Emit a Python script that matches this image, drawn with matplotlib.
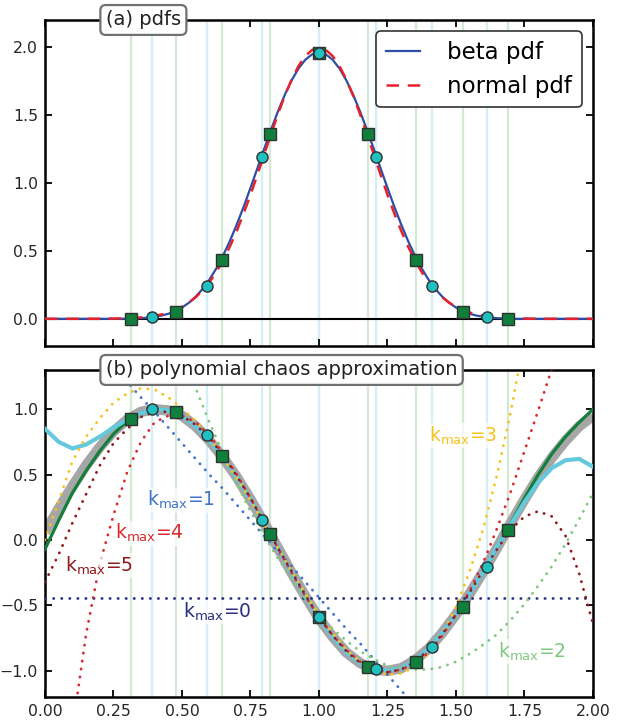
import numpy as np
import matplotlib.pyplot as plt

# ---- data ----
# quadrature nodes: squares (9 pts) and circles (7 pts)
sq_x = [0.313, 0.478, 0.645, 0.821, 1.000, 1.180, 1.354, 1.526, 1.690]
sq_pdf = [0.0, 0.05, 0.43, 1.36, 1.96, 1.36, 0.43, 0.05, 0.0]
sq_f = [0.924, 0.975, 0.646, 0.046, -0.59, -0.967, -0.929, -0.514, 0.08]
ci_x = [0.390, 0.590, 0.793, 1.000, 1.208, 1.412, 1.613]
ci_pdf = [0.015, 0.24, 1.193, 1.96, 1.19, 0.24, 0.015]
ci_f = [0.998, 0.80, 0.153, -0.59, -0.987, -0.819, -0.204]

# (a) pdfs, sampled every 0.025 on [0, 2]
pdf_x = np.linspace(0, 2, 81)
beta_pdf = [0, 0, 0, 0, 0, 0, 0, 0, 0, 0, 0, 0,
            0.001, 0.003, 0.005, 0.008, 0.015, 0.024, 0.037, 0.057, 0.083, 0.118,
            0.163, 0.219, 0.288, 0.370, 0.466, 0.574, 0.695, 0.825, 0.964, 1.107,
            1.251, 1.392, 1.526, 1.648, 1.755, 1.842, 1.907, 1.947,
            1.960,
            1.947, 1.907, 1.842, 1.755, 1.648, 1.526, 1.392, 1.251,
            1.107, 0.964, 0.825, 0.695, 0.574, 0.466, 0.370, 0.288, 0.219, 0.163,
            0.118, 0.083, 0.057, 0.037, 0.024, 0.015, 0.008, 0.005, 0.003, 0.001,
            0, 0, 0, 0, 0, 0, 0, 0, 0, 0, 0, 0]
normal_pdf = [0, 0, 0, 0, 0, 0, 0, 0,
              0.000, 0.001, 0.002, 0.003, 0.004, 0.007, 0.010, 0.015, 0.022, 0.032,
              0.046, 0.064, 0.088, 0.119, 0.159, 0.209, 0.270, 0.344, 0.432, 0.533,
              0.648, 0.775, 0.913, 1.060, 1.210, 1.360, 1.506, 1.641, 1.760, 1.860,
              1.934, 1.980,
              1.995,
              1.980, 1.934, 1.860, 1.760, 1.641, 1.506, 1.360, 1.210, 1.060, 0.913,
              0.775, 0.648, 0.533, 0.432, 0.344, 0.270, 0.209, 0.159, 0.119, 0.088,
              0.064, 0.046, 0.032, 0.022, 0.015, 0.010, 0.007, 0.004, 0.003, 0.002,
              0.001, 0.000,
              0, 0, 0, 0, 0, 0, 0, 0]

# (b) function and approximations, sampled every 0.05 on [0, 2]
xg = np.linspace(0, 2, 41)
f_true = [0.06, 0.24, 0.41, 0.57, 0.71, 0.83, 0.92, 0.98, 1.00, 0.99, 0.95, 0.87,
          0.76, 0.63, 0.48, 0.31, 0.13, -0.06, -0.25, -0.43, -0.60, -0.74, -0.86,
          -0.94, -0.99, -1.00, -0.98, -0.92, -0.83, -0.71, -0.57, -0.41, -0.24,
          -0.06, 0.13, 0.31, 0.48, 0.63, 0.76, 0.87, 0.95]
f_sq = [-0.07, 0.15, 0.36, 0.53, 0.68, 0.81, 0.91, 0.97, 1.00, 0.99, 0.95, 0.87,
        0.76, 0.63, 0.48, 0.31, 0.13, -0.06, -0.25, -0.43, -0.60, -0.74, -0.86,
        -0.94, -0.99, -1.00, -0.98, -0.92, -0.83, -0.71, -0.57, -0.41, -0.24,
        -0.06, 0.13, 0.32, 0.50, 0.66, 0.79, 0.90, 1.00]
f_ci = [0.85, 0.75, 0.70, 0.73, 0.79, 0.86, 0.92, 0.97, 1.00, 0.99, 0.95, 0.87,
        0.76, 0.63, 0.48, 0.31, 0.13, -0.06, -0.25, -0.43, -0.60, -0.74, -0.86,
        -0.94, -0.99, -1.00, -0.98, -0.92, -0.83, -0.71, -0.57, -0.41, -0.24,
        -0.05, 0.12, 0.29, 0.44, 0.55, 0.61, 0.62, 0.56]
k0_level = -0.44
k1 = [1.92, 1.80, 1.68, 1.57, 1.45, 1.33, 1.21, 1.09, 0.98, 0.86, 0.74, 0.62,
      0.50, 0.39, 0.27, 0.15, 0.03, -0.09, -0.20, -0.32, -0.44, -0.56, -0.68,
      -0.79, -0.91, -1.03, -1.15, -1.27, -1.38, -1.50, -1.62, -1.74, -1.86,
      -1.97, -2.09, -2.21, -2.33, -2.45, -2.56, -2.68, -2.80]
k2 = [5.08, 4.64, 4.22, 3.81, 3.42, 3.05, 2.69, 2.35, 2.03, 1.72, 1.43, 1.16,
      0.90, 0.66, 0.43, 0.22, 0.03, -0.14, -0.30, -0.45, -0.57, -0.68, -0.77,
      -0.85, -0.91, -0.96, -0.98, -0.99, -0.99, -0.97, -0.93, -0.87, -0.80,
      -0.72, -0.61, -0.49, -0.35, -0.20, -0.03, 0.16, 0.36]
k3 = [0.00, 0.30, 0.60, 0.79, 0.93, 1.05, 1.12, 1.16, 1.15, 1.09, 1.01, 0.91,
      0.78, 0.63, 0.47, 0.30, 0.12, -0.06, -0.24, -0.41, -0.57, -0.71, -0.84,
      -0.93, -1.00, -1.03, -1.02, -0.97, -0.87, -0.72, -0.51, -0.24, 0.09,
      0.50, 0.98, 1.54, 2.18, 2.92, 3.74, 4.67, 5.69]
k4 = [-3.52, -2.40, -1.45, -0.72, -0.18, 0.19, 0.52, 0.75, 0.90, 0.95, 0.95, 0.90,
      0.80, 0.66, 0.50, 0.32, 0.13, -0.06, -0.25, -0.43, -0.59, -0.73, -0.84,
      -0.93, -0.99, -1.01, -0.99, -0.94, -0.86, -0.73, -0.57, -0.39, -0.17,
      0.09, 0.37, 0.68, 0.99, 1.31, 1.66, 2.02, 2.38]
k5 = [-0.32, -0.11, 0.13, 0.35, 0.57, 0.74, 0.85, 0.94, 0.98, 0.98, 0.95, 0.88,
      0.78, 0.65, 0.49, 0.32, 0.13, -0.06, -0.24, -0.42, -0.59, -0.73, -0.85,
      -0.94, -0.99, -1.01, -0.99, -0.93, -0.84, -0.72, -0.57, -0.40, -0.23,
      -0.07, 0.08, 0.18, 0.22, 0.18, 0.03, -0.26, -0.64]

k_colors = ['#2b2f80', '#3f74c9', '#80c880', '#f8c21c', '#d7282f', '#8e1b1e']
# label anchor (data coords) for each kmax curve
k_label_pos = [(0.63, -0.55), (0.496, 0.305), (1.777, -0.855),
               (1.526, 0.80), (0.38, 0.053), (0.197, -0.198)]

xticks = [0.0, 0.25, 0.5, 0.75, 1.0, 1.25, 1.5, 1.75, 2.0]
xtick_labels = ['0.00', '0.25', '0.50', '0.75', '1.00', '1.25', '1.50', '1.75', '2.00']

sq_color = '#117f3c'
ci_color = '#20bfc0'
dots = (0, (0.1, 2.8))

fig = plt.figure(figsize=(6.24, 7.24), dpi=100)
ax1 = fig.add_axes([0.0721, 0.5221, 0.8782, 0.4503])
ax2 = fig.add_axes([0.0721, 0.0373, 0.8782, 0.4517])

for ax in (ax1, ax2):
    for xv in sq_x:
        ax.axvline(xv, color='#d3e9d3', lw=1.6, zorder=0.5)
    for xv in ci_x:
        ax.axvline(xv, color='#d5eef6', lw=1.6, zorder=0.5)
    ax.set_xlim(0, 2)
    ax.set_xticks(xticks)
    ax.tick_params(direction='in', top=True, right=True, length=5, width=1.3,
                   labelsize=11.3, labelcolor='#262626', pad=5)
    for sp in ax.spines.values():
        sp.set_linewidth(1.8)

# ---- (a) pdfs ----
ax1.axhline(0, color='k', lw=1.5, zorder=1)
ax1.plot(pdf_x, beta_pdf, color='#2c4ea6', lw=1.6, zorder=3, label='beta pdf')
ax1.plot(pdf_x, normal_pdf, color='#e8202a', lw=1.8, ls=(0, (5, 3.5)), zorder=4,
         label='normal pdf')
ax1.plot(sq_x, sq_pdf, 's', ms=8.3, mfc=sq_color, mec='#303030', mew=1, zorder=6)
ax1.plot(ci_x, ci_pdf, 'o', ms=8, mfc=ci_color, mec='#303030', mew=1, zorder=7)
ax1.set_ylim(-0.2, 2.2)
ax1.set_yticks([0.0, 0.5, 1.0, 1.5, 2.0])
ax1.set_xticklabels([])
leg = ax1.legend(loc='upper right', fontsize=16.5, handlelength=1.5,
                 handletextpad=1.2, borderaxespad=0.5, fancybox=True,
                 framealpha=1, edgecolor='#333333')
leg.get_frame().set_linewidth(1.2)
ax1.text(0.111, 1.0, '(a) pdfs', transform=ax1.transAxes, ha='left', va='center',
         fontsize=14, color='#222222', zorder=10,
         bbox=dict(boxstyle='round,pad=0.28', fc='white', ec='#707070', lw=1.6))

# ---- (b) polynomial chaos approximation ----
ax2.plot(xg, f_true, color='#a6a6a6', lw=7.5, solid_capstyle='butt', zorder=2)
ax2.plot(xg, f_sq, color='#137f3a', lw=2.3, zorder=3)
ax2.plot(xg, f_ci, color='#63c9dd', lw=3, zorder=4)

ax2.axhline(k0_level, color=k_colors[0], lw=2.0, ls=dots,
            dash_capstyle='round', zorder=5)
for vals, col in zip([k1, k2, k3, k4, k5], k_colors[1:]):
    ax2.plot(xg, vals, color=col, lw=2.0, ls=dots, dash_capstyle='round', zorder=5)

ax2.plot(sq_x, sq_f, 's', ms=8.3, mfc=sq_color, mec='#303030', mew=1, zorder=6)
ax2.plot(ci_x, ci_f, 'o', ms=8, mfc=ci_color, mec='#303030', mew=1, zorder=7)

for k, (pos, col) in enumerate(zip(k_label_pos, k_colors)):
    ax2.text(pos[0], pos[1], r'k$_{\rm max}$=%d' % k, color=col, fontsize=13.5,
             ha='center', va='center', zorder=9,
             bbox=dict(fc='white', ec='none', alpha=0.7, pad=1))

ax2.set_ylim(-1.2, 1.3)
ax2.set_yticks([-1.0, -0.5, 0.0, 0.5, 1.0])
ax2.set_xticklabels(xtick_labels)
ax2.text(0.111, 1.0, '(b) polynomial chaos approximation', transform=ax2.transAxes,
         ha='left', va='center', fontsize=14, color='#222222', zorder=10,
         bbox=dict(boxstyle='round,pad=0.28', fc='white', ec='#707070', lw=1.6))

plt.savefig('out.png', dpi=100)
